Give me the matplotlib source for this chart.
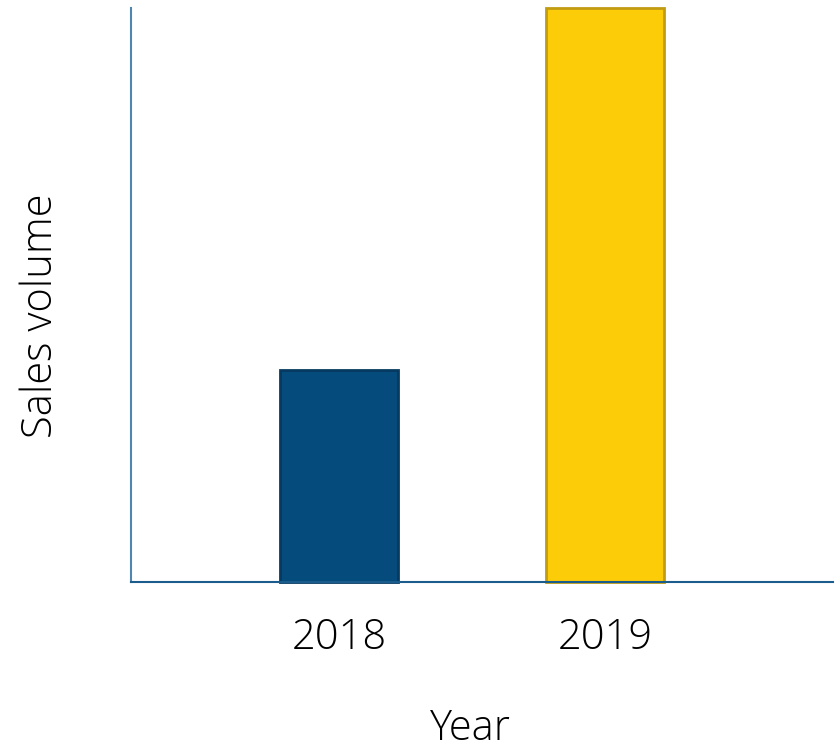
import matplotlib.pyplot as plt

# Yearly sales volume
years = ['2018', '2019']
sales = [37, 100]
bar_colors = ['#054b7b', '#fdcc08']
edge_colors = ['#063a60', '#c19c12']

plt.rcParams['font.family'] = ['Open Sans', 'DejaVu Sans']

fig = plt.figure(figsize=(8.36, 7.5), dpi=100)
ax = fig.add_axes([131 / 836, 1 - 582 / 750, 702 / 836, 574 / 750])

x = range(len(years))
bars = ax.bar(x, sales, width=0.444, color=bar_colors, edgecolor=edge_colors,
              linewidth=2)
for b in bars:
    b.set_clip_on(False)

ax.set_xlim(-0.782, 1.857)
ax.set_ylim(0, 100)
ax.set_xticks(list(x))
ax.set_xticklabels(years, fontsize=30, fontweight='light')
ax.tick_params(axis='x', length=0, pad=25)
ax.set_yticks([])

for side in ['top', 'right']:
    ax.spines[side].set_visible(False)
ax.spines['left'].set_color('#4f86ae')
ax.spines['left'].set_linewidth(1.5)
ax.spines['bottom'].set_color('#1a5c8c')
ax.spines['bottom'].set_linewidth(1.5)

ax.set_xlabel('Year', fontsize=30, fontweight='light')
ax.xaxis.set_label_coords(0.484, -0.219)
ax.set_ylabel('Sales volume', fontsize=30, fontweight='light')
ax.yaxis.set_label_coords(-0.098, 0.463)

fig.savefig('out.png', dpi=100)
